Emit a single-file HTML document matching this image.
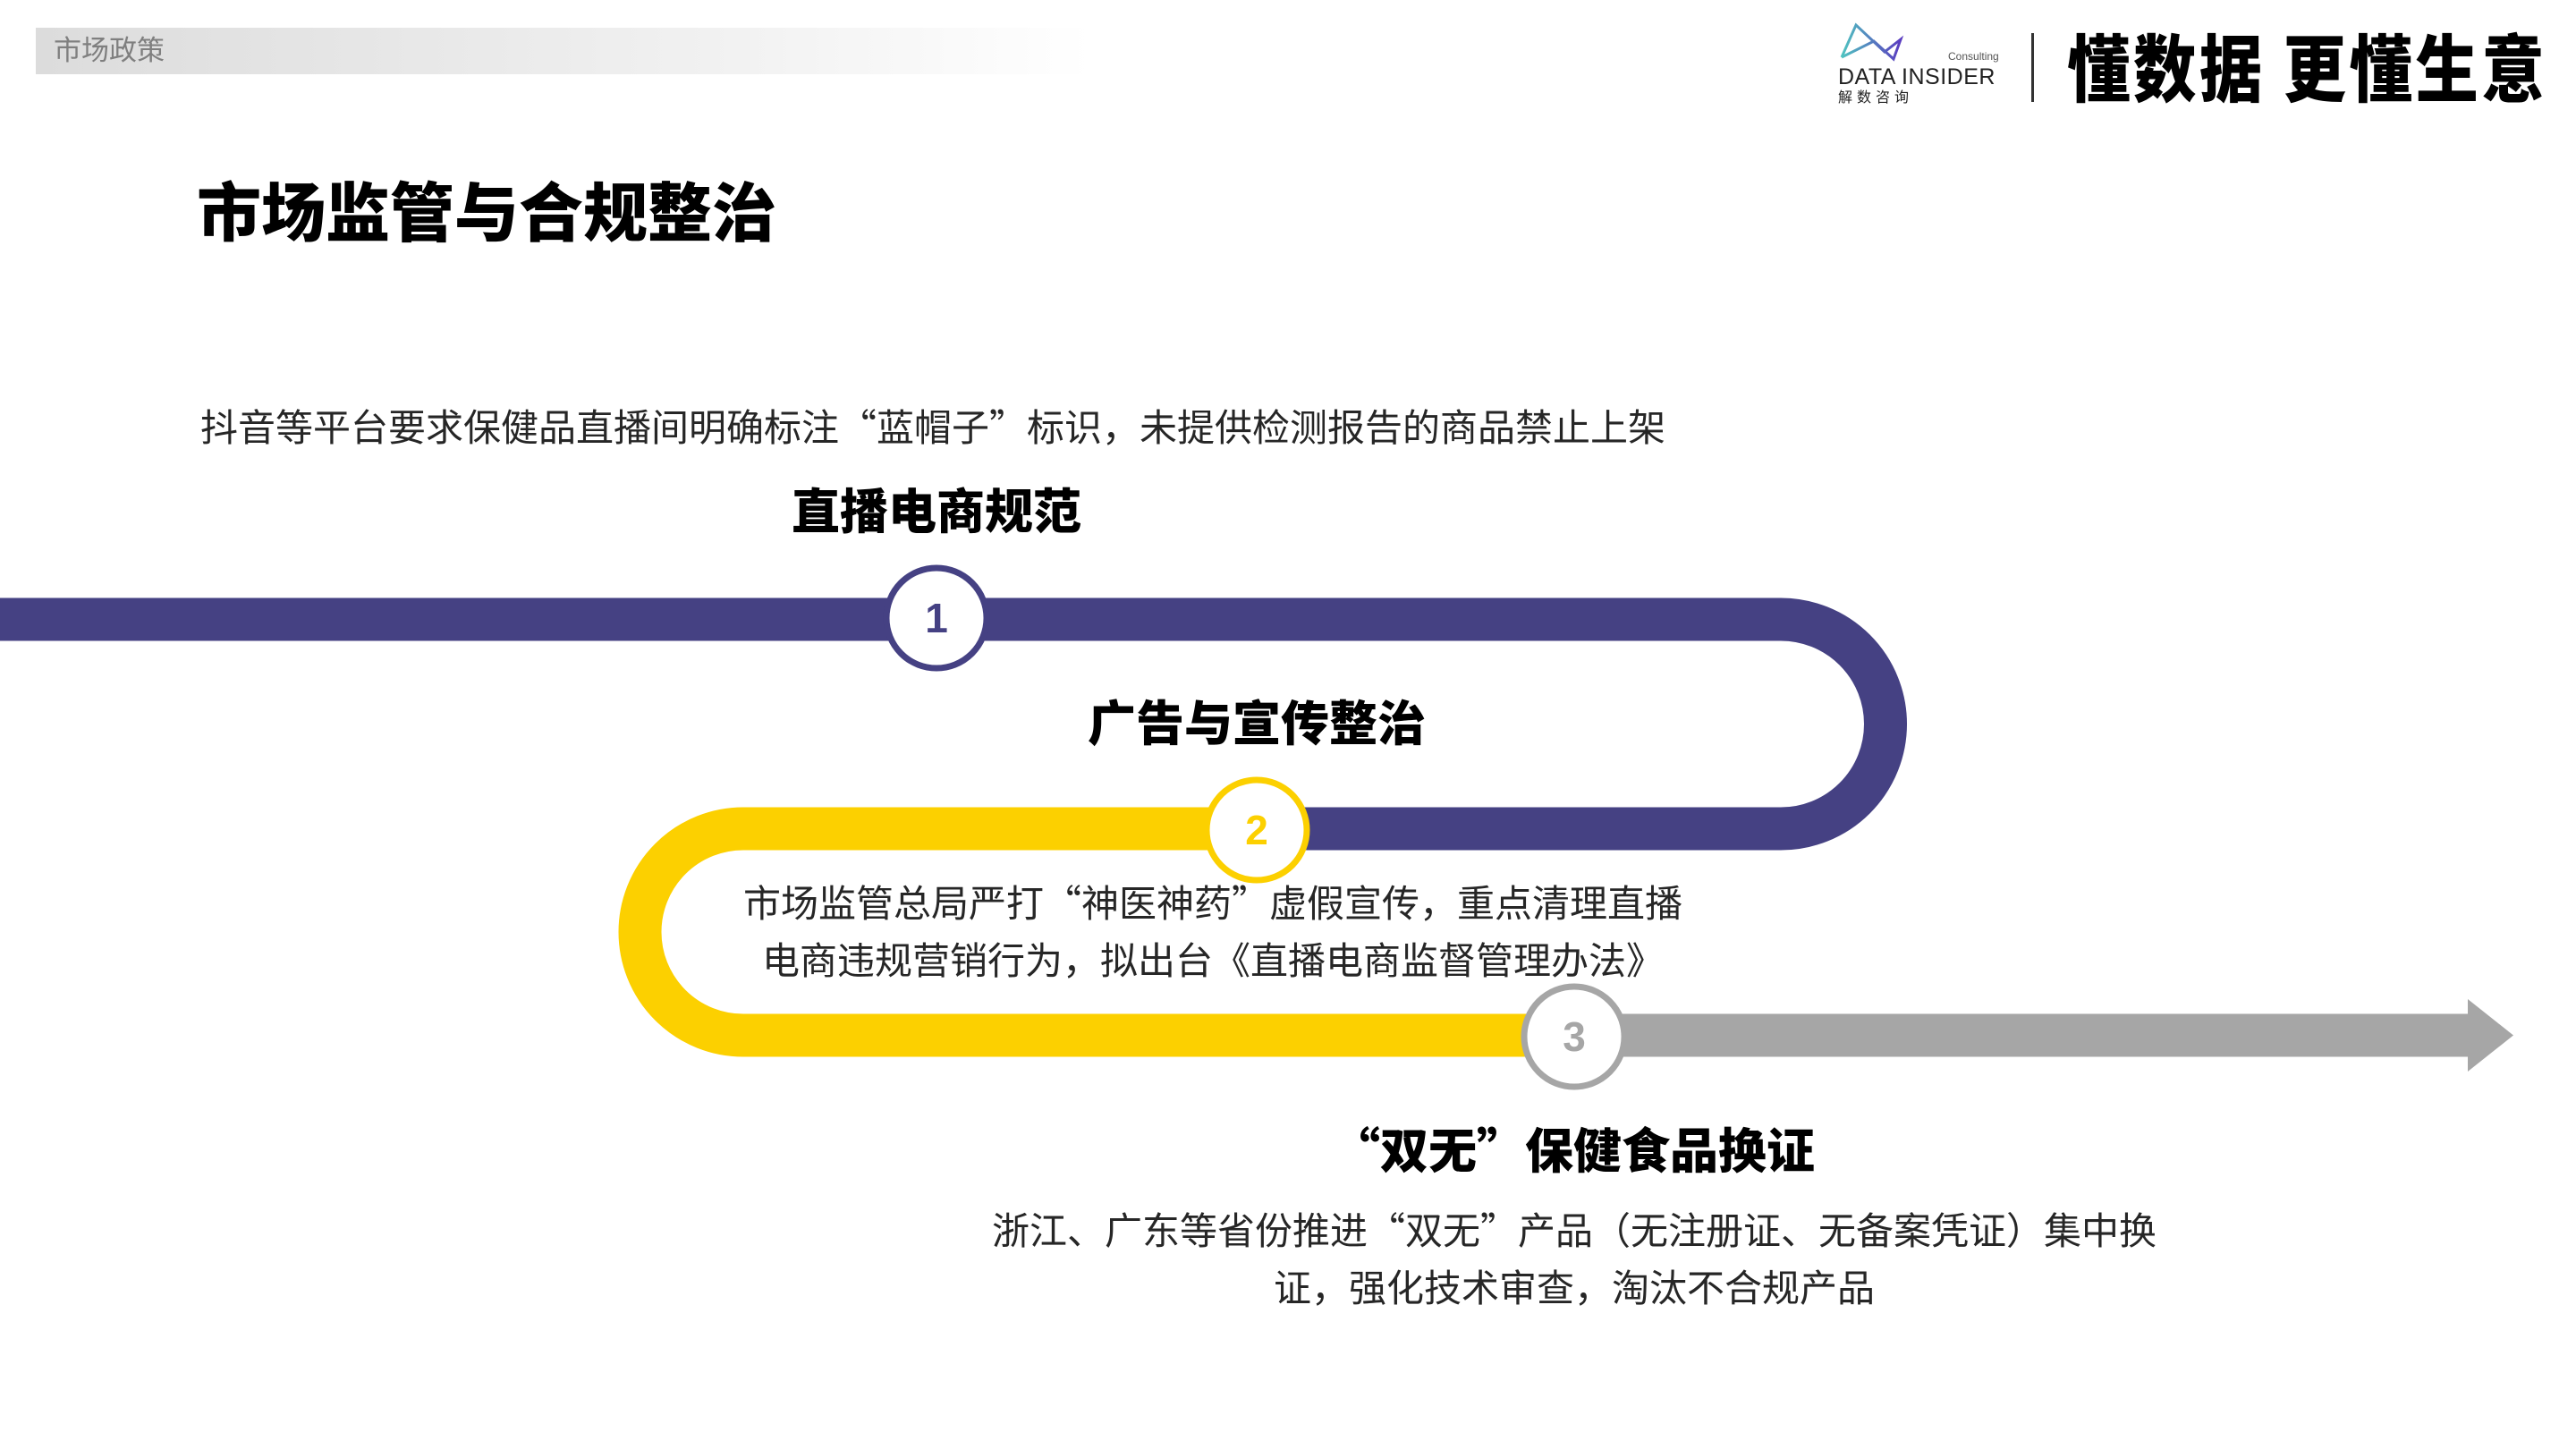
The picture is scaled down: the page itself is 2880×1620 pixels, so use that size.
<!DOCTYPE html>
<html><head><meta charset="utf-8"><style>
html,body{margin:0;padding:0;background:#fff;}
body{width:2880px;height:1620px;position:relative;overflow:hidden;font-family:"Liberation Sans","Noto Sans CJK SC",sans-serif;color:#222;}
.a{position:absolute;white-space:nowrap;}
.c{transform:translateX(-50%);text-align:center;}
.b{font-weight:900;color:#000;font-family:"Noto Sans CJK SC",sans-serif;}
.t{font-family:"Noto Sans CJK SC",sans-serif;font-size:42px;line-height:64px;color:#262626;}
</style></head><body>
<div class="a" style="left:40px;top:31px;width:1180px;height:52px;background:linear-gradient(90deg,#dcdcdc,#f3f3f3 70%,#fff);"></div>
<div class="a" style="left:60px;top:36px;font-size:31px;line-height:42px;color:#7f7f7f;">市场政策</div>

<svg class="a" style="left:2055px;top:24px" width="75" height="46" viewBox="0 0 75 46">
<defs><linearGradient id="g" x1="0" x2="1"><stop offset="0" stop-color="#4fc3c0"/><stop offset="1" stop-color="#5a3cc0"/></linearGradient></defs>
<path d="M4,40 L20,4 L52,34 L70,20 L62,42 L40,22 L4,40" fill="none" stroke="url(#g)" stroke-width="3"/>
</svg>
<div class="a" style="left:2178px;top:56px;font-size:12px;color:#555;">Consulting</div>
<div class="a" style="left:2055px;top:72px;font-size:25px;line-height:28px;color:#222;letter-spacing:0.5px;">DATA INSIDER</div>
<div class="a" style="left:2055px;top:100px;font-size:16px;line-height:20px;color:#222;letter-spacing:5px;">解数咨询</div>
<div class="a" style="left:2271px;top:37px;width:3px;height:77px;background:#333;"></div>
<div class="a b" style="left:2311px;top:26px;font-size:82px;line-height:92px;transform:scaleX(0.86);transform-origin:left top;letter-spacing:4px;">懂数据 更懂生意</div>

<div class="a b" style="left:220px;top:188px;font-size:72px;line-height:90px;">市场监管与合规整治</div>
<div class="a t" style="left:224px;top:444px;">抖音等平台要求保健品直播间明确标注“蓝帽子”标识，未提供检测报告的商品禁止上架</div>
<div class="a b c" style="left:1047px;top:536px;font-size:54px;line-height:64px;">直播电商规范</div>

<svg class="a" style="left:0;top:0" width="2880" height="1620">
<path d="M0,692.5 H1991 A117,117 0 0 1 1991,926.5 H1405" fill="none" stroke="#454183" stroke-width="48"/>
<path d="M1405,926.5 H831 A115.5,115.5 0 0 0 831,1157.5 H1760" fill="none" stroke="#fcd000" stroke-width="48"/>
<path d="M1760,1157.5 H2762" fill="none" stroke="#a6a6a6" stroke-width="48"/>
<polygon points="2759,1117 2810,1157.5 2759,1198" fill="#a6a6a6"/>
<circle cx="1047" cy="691" r="56" fill="#fff" stroke="#454183" stroke-width="7"/>
<circle cx="1405" cy="928" r="56" fill="#fff" stroke="#fcd000" stroke-width="7"/>
<circle cx="1760" cy="1159" r="56" fill="#fff" stroke="#a6a6a6" stroke-width="7"/>
<text x="1047" y="707" font-size="46" font-weight="bold" text-anchor="middle" fill="#454183" font-family="Liberation Sans,sans-serif">1</text>
<text x="1405" y="944" font-size="46" font-weight="bold" text-anchor="middle" fill="#fcd000" font-family="Liberation Sans,sans-serif">2</text>
<text x="1760" y="1175" font-size="46" font-weight="bold" text-anchor="middle" fill="#a6a6a6" font-family="Liberation Sans,sans-serif">3</text>
</svg>

<div class="a b c" style="left:1405px;top:773px;font-size:54px;line-height:64px;">广告与宣传整治</div>
<div class="a c t" style="left:1356px;top:976px;">市场监管总局严打“神医神药”虚假宣传，重点清理直播<br>电商违规营销行为，拟出台《直播电商监督管理办法》</div>
<div class="a b c" style="left:1759px;top:1251px;font-size:54px;line-height:64px;">“双无”保健食品换证</div>
<div class="a c t" style="left:1760px;top:1342px;">浙江、广东等省份推进“双无”产品（无注册证、无备案凭证）集中换<br>证，强化技术审查，淘汰不合规产品</div>
</body></html>
